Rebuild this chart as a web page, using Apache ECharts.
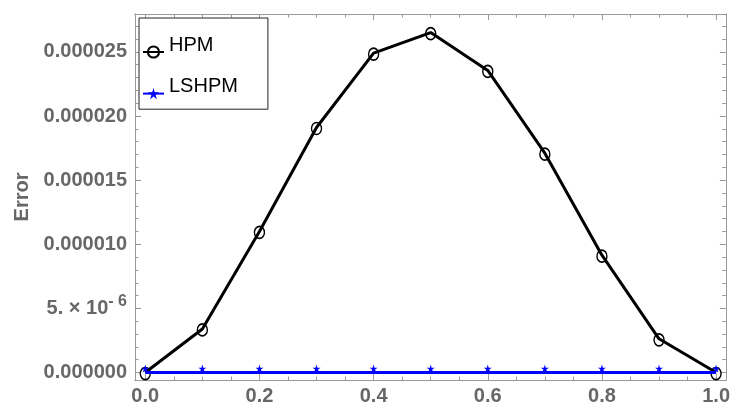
<!DOCTYPE html>
<html>
<head>
<meta charset="utf-8">
<script src="https://cdn.jsdelivr.net/npm/echarts@6/dist/echarts.min.js"></script>
<style>html,body{margin:0;padding:0;background:#fff;}#c{width:733px;height:406px;}</style>
</head>
<body>
<div id="c"></div>
<script>
// ---- data ----
var xValues = [0.0, 0.1, 0.2, 0.3, 0.4, 0.5, 0.6, 0.7, 0.8, 0.9, 1.0];
var hpmError = [0, 3.4e-6, 11.0e-6, 19.1e-6, 24.9e-6, 26.5e-6, 23.55e-6, 17.1e-6, 9.15e-6, 2.63e-6, 0];
var lshpmError = [0, 0, 0, 0, 0, 0, 0, 0, 0, 0, 0];
var seriesNames = ['HPM', 'LSHPM'];
var xTicks = [0.0, 0.2, 0.4, 0.6, 0.8, 1.0];
var xTickLabels = ['0.0', '0.2', '0.4', '0.6', '0.8', '1.0'];
var xMinorTicks = [0.05, 0.1, 0.15, 0.25, 0.3, 0.35, 0.45, 0.5, 0.55, 0.65, 0.7, 0.75, 0.85, 0.9, 0.95];
var yTicks = [0, 5e-6, 10e-6, 15e-6, 20e-6, 25e-6];
var yTickLabels = ['0.000000', '5. × 10^-6', '0.000010', '0.000015', '0.000020', '0.000025'];
var yMinorTicks = [1e-6, 2e-6, 3e-6, 4e-6, 6e-6, 7e-6, 8e-6, 9e-6, 11e-6, 12e-6, 13e-6, 14e-6, 16e-6, 17e-6, 18e-6, 19e-6, 21e-6, 22e-6, 23e-6, 24e-6, 26e-6, 27e-6];
var yAxisName = 'Error';

// ---- chart ----
var FONT = 'Liberation Sans, Arial, sans-serif';
var frameColor = '#999999';
var labelColor = '#676767';
var X_MIN = -0.018, X_MAX = 1.017, Y_MIN = -0.58e-6, Y_MAX = 27.95e-6;

function pairs(xs, ys) { return xs.map(function (x, i) { return [x, ys[i]]; }); }
function nearest(arr, v) {
  var best = 0, d = Infinity;
  arr.forEach(function (t, i) { if (Math.abs(t - v) < d) { d = Math.abs(t - v); best = i; } });
  return best;
}
function yLabel(v) {
  var s = yTickLabels[nearest(yTicks, v)];
  if (s.indexOf('^') >= 0) {
    var p = s.split('^');
    return '{b|' + p[0] + '}{s|' + p[1].replace('-', '- ') + '}';
  }
  return '{b|' + s + '}';
}
function xLabel(v) { return xTickLabels[nearest(xTicks, v)]; }

function xAxisDef(pos, ticks, len, showLabel) {
  return {
    type: 'value', gridIndex: 0, position: pos, min: X_MIN, max: X_MAX,
    axisLine: { show: true, onZero: false, lineStyle: { color: frameColor, width: 1 } },
    axisTick: { show: true, inside: true, length: len, customValues: ticks, lineStyle: { color: frameColor, width: 1 } },
    axisLabel: showLabel ? {
      show: true, customValues: ticks, formatter: xLabel, margin: 6,
      color: labelColor, fontSize: 20, fontWeight: 'bold', fontFamily: FONT
    } : { show: false },
    splitLine: { show: false }, minorTick: { show: false }
  };
}
function yAxisDef(pos, ticks, len, showLabel) {
  var d = {
    type: 'value', gridIndex: 0, position: pos, min: Y_MIN, max: Y_MAX,
    axisLine: { show: true, onZero: false, lineStyle: { color: frameColor, width: 1 } },
    axisTick: { show: true, inside: true, length: len, customValues: ticks, lineStyle: { color: frameColor, width: 1 } },
    axisLabel: showLabel ? {
      show: true, customValues: ticks, formatter: yLabel, margin: 8,
      color: labelColor, fontSize: 20, fontWeight: 'bold', fontFamily: FONT,
      rich: {
        b: { color: labelColor, fontSize: 20, fontWeight: 'bold', fontFamily: FONT },
        s: { color: labelColor, fontSize: 16, fontWeight: 'bold', fontFamily: FONT, verticalAlign: 'bottom', padding: [0, 0, 14, 0] }
      }
    } : { show: false },
    splitLine: { show: false }, minorTick: { show: false }
  };
  if (showLabel) {
    d.name = yAxisName;
    d.nameLocation = 'middle';
    d.nameGap = 103;
    d.nameRotate = 90;
    d.nameTextStyle = { color: labelColor, fontSize: 20, fontWeight: 'bold', fontFamily: FONT };
  }
  return d;
}

var chart = echarts.init(document.getElementById('c'), null, { renderer: 'canvas' });
chart.setOption({
  animation: false,
  backgroundColor: '#ffffff',
  grid: { left: 135, right: 6, top: 14, bottom: 24, containLabel: false },
  xAxis: [
    xAxisDef('bottom', xTicks, 6, true),
    xAxisDef('bottom', xMinorTicks, 3.5, false),
    xAxisDef('top', xTicks, 6, false),
    xAxisDef('top', xMinorTicks, 3.5, false)
  ],
  yAxis: [
    yAxisDef('left', yTicks, 6, true),
    yAxisDef('left', yMinorTicks, 3.5, false),
    yAxisDef('right', yTicks, 6, false),
    yAxisDef('right', yMinorTicks, 3.5, false)
  ],
  legend: {
    data: seriesNames,
    orient: 'vertical',
    left: 139, top: 18,
    backgroundColor: '#ffffff',
    borderColor: '#222222', borderWidth: 1,
    padding: [17, 30, 10, 3],
    itemGap: 18,
    itemWidth: 21, itemHeight: 14,
    formatter: function (name) { return '{t|' + name + '}'; },
    textStyle: {
      color: '#000000', fontSize: 20, fontFamily: FONT,
      rich: { t: { color: '#000000', fontSize: 20, fontFamily: FONT, padding: [0, 0, 14, 0] } }
    }
  },
  series: [
    {
      name: seriesNames[0], type: 'line', xAxisIndex: 0, yAxisIndex: 0,
      data: pairs(xValues, hpmError),
      color: '#000000',
      lineStyle: { color: '#000000', width: 3 },
      symbol: 'circle', symbolSize: [10, 12], symbolOffset: [0, 1],
      itemStyle: { color: 'rgba(0,0,0,0)', borderColor: '#000000', borderWidth: 1.5 },
      z: 3
    },
    {
      name: seriesNames[1], type: 'line', xAxisIndex: 0, yAxisIndex: 0,
      data: pairs(xValues, lshpmError),
      color: '#0000ff',
      lineStyle: { color: '#0000ff', width: 3 },
      symbol: 'path://M50,0 L61,35 L98,35 L68,57 L79,91 L50,70 L21,91 L32,57 L2,35 L39,35 Z',
      symbolSize: 8, symbolOffset: [0, -4],
      itemStyle: { color: '#0000ff' },
      z: 4
    }
  ]
});
</script>
</body>
</html>
